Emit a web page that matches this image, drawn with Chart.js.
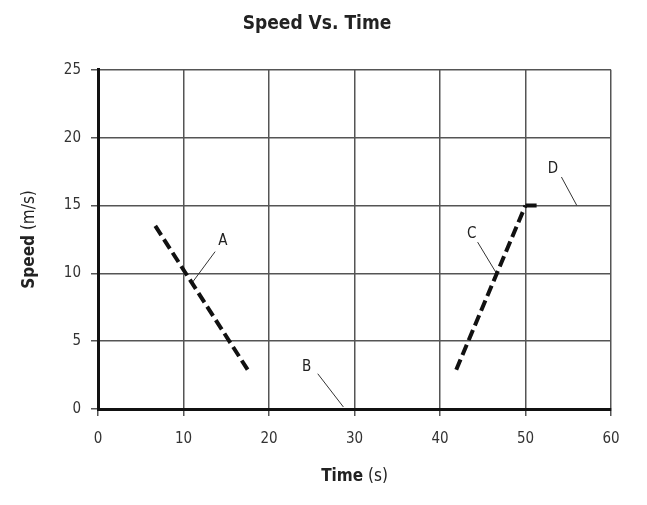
<!DOCTYPE html>
<html lang="en">
<head>
  <meta charset="UTF-8">
  <title>Speed Vs. Time</title>
  <script src="https://cdn.jsdelivr.net/npm/chart.js"></script>
  <style>
    body {
      margin: 0;
      background: #fff;
    }
    #wrap {
      width: 647px;
      height: 505px;
    }
  </style>
</head>
<body>
<div id="wrap"><canvas id="speedChart"></canvas></div>

<script>
  // segments (time in s, speed in m/s)
  const segA_x = [6.7, 17.5];
  const segA_y = [13.5, 2.9];
  const segC_x = [41.9, 50];
  const segC_y = [2.9, 15];
  const segD_x = [50, 51.3];
  const segD_y = [15, 15];

  // letter labels and their pointer lines
  const labelNames = ['A', 'B', 'C', 'D'];
  const labelX = [14.6, 24.4, 43.7, 53.2];
  const labelY = [12.4, 3.1, 12.9, 17.7];
  const leaderX = [[13.7, 11.0], [25.7, 28.7], [44.4, 46.7], [54.2, 56.0]];
  const leaderY = [[11.6, 9.3], [2.6, 0.15], [12.3, 9.9], [17.1, 15.0]];

  const xTicks = [0, 10, 20, 30, 40, 50, 60];
  const yTicks = [0, 5, 10, 15, 20, 25];

  const FONT = '"Liberation Sans Narrow", "DejaVu Sans Condensed", "Roboto Condensed", sans-serif';

  const toPoints = (xs, ys) => xs.map((x, i) => ({ x, y: ys[i] }));

  const datasets = [
    {
      data: toPoints(segA_x, segA_y),
      borderColor: '#111',
      borderWidth: 4,
      borderDash: [11, 5],
      showLine: true,
      pointRadius: 0
    },
    {
      data: toPoints(segC_x, segC_y),
      borderColor: '#111',
      borderWidth: 4,
      borderDash: [11, 5],
      showLine: true,
      pointRadius: 0
    },
    {
      data: toPoints(segD_x, segD_y),
      borderColor: '#111',
      borderWidth: 4,
      showLine: true,
      pointRadius: 0
    }
  ];

  leaderX.forEach((xs, i) => {
    datasets.push({
      data: toPoints(xs, leaderY[i]),
      borderColor: '#333',
      borderWidth: 1,
      showLine: true,
      pointRadius: 0
    });
  });

  // letters on the plot and the mixed bold/normal axis titles
  const textPlugin = {
    id: 'textPlugin',
    afterDraw(chart) {
      const ctx = chart.ctx;
      const xs = chart.scales.x;
      const ys = chart.scales.y;
      const area = chart.chartArea;
      ctx.save();
      ctx.fillStyle = '#222';
      ctx.textAlign = 'center';
      ctx.textBaseline = 'middle';
      ctx.font = '15px ' + FONT;
      labelNames.forEach((name, i) => {
        ctx.fillText(name, xs.getPixelForValue(labelX[i]), ys.getPixelForValue(labelY[i]));
      });

      function mixed(boldPart, normalPart) {
        ctx.font = 'bold 17px ' + FONT;
        const w1 = ctx.measureText(boldPart).width;
        ctx.font = '17px ' + FONT;
        const w2 = ctx.measureText(normalPart).width;
        const start = -(w1 + w2) / 2;
        ctx.textAlign = 'left';
        ctx.font = 'bold 17px ' + FONT;
        ctx.fillText(boldPart, start, 0);
        ctx.font = '17px ' + FONT;
        ctx.fillText(normalPart, start + w1, 0);
      }

      ctx.save();
      ctx.translate((area.left + area.right) / 2, 477);
      mixed('Time', ' (s)');
      ctx.restore();

      ctx.save();
      ctx.translate(30, (area.top + area.bottom) / 2);
      ctx.rotate(-Math.PI / 2);
      mixed('Speed', ' (m/s)');
      ctx.restore();

      ctx.restore();
    }
  };

  new Chart(document.getElementById('speedChart'), {
    type: 'scatter',
    data: { datasets },
    options: {
      responsive: true,
      maintainAspectRatio: false,
      animation: false,
      layout: { padding: { left: 23, right: 36, bottom: 43, top: 0 } },
      plugins: {
        legend: { display: false },
        tooltip: { enabled: false },
        title: {
          display: true,
          text: 'Speed Vs. Time',
          color: '#222',
          font: { family: FONT, size: 19, weight: 'bold' },
          padding: { top: 13, bottom: 34 }
        }
      },
      scales: {
        x: {
          type: 'linear',
          min: 0,
          max: 60,
          afterBuildTicks: axis => { axis.ticks = xTicks.map(v => ({ value: v })); },
          ticks: { color: '#333', font: { family: FONT, size: 15 }, padding: 14 },
          grid: { color: '#555', lineWidth: 1.5, tickLength: 7 },
          border: { color: '#111', width: 3 }
        },
        y: {
          type: 'linear',
          min: 0,
          max: 25,
          afterBuildTicks: axis => { axis.ticks = yTicks.map(v => ({ value: v })); },
          afterFit: axis => { axis.width = 75; },
          ticks: { color: '#333', font: { family: FONT, size: 15 }, padding: 10 },
          grid: { color: '#555', lineWidth: 1.5, tickLength: 7 },
          border: { color: '#111', width: 3 }
        }
      }
    },
    plugins: [textPlugin]
  });
</script>
</body>
</html>
